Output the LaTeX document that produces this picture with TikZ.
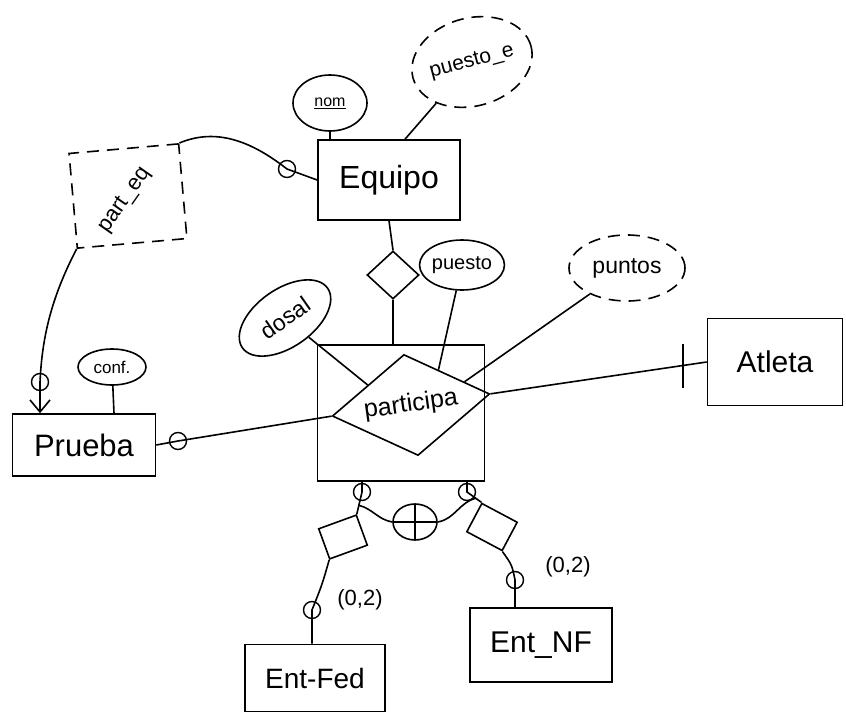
\documentclass[tikz,border=0pt]{standalone}
\usepackage{fontspec}
\setmainfont{Liberation Sans}
\usetikzlibrary{shapes.geometric,arrows.meta,calc}
\newcommand{\tam}[1]{\fontsize{#1}{#1}\selectfont}
\begin{document}
\begin{tikzpicture}[x=1pt,y=-1pt,line width=1.6pt,
	entidad/.style={draw,rectangle,inner sep=0pt},
	atrib/.style={draw,ellipse,inner sep=0pt},
	rel/.style={draw,diamond,inner sep=0pt,aspect=1.5},
	discont/.style={dash pattern=on 12pt off 8pt},
	card/.style={draw,circle,minimum size=17,inner sep=0pt,line width=1.4pt}]
		\useasboundingbox (0,0) rectangle (846,720);
		\node [entidad,minimum width=142,minimum height=80,font=\tam{32}] (equipo) at (389,180) {Equipo};
		\node [entidad,minimum width=143,minimum height=62,font=\tam{31}] (prueba) at (84,445) {Prueba};
		\node [entidad,minimum width=135,minimum height=87,font=\tam{30}] (atleta) at (775,362) {Atleta};
		\node [entidad,minimum width=140,minimum height=67,font=\tam{28}] (entfed) at (315,678) {Ent-Fed};
		\node [entidad,minimum width=142,minimum height=74,font=\tam{30}] (entnf) at (541,645) {Ent\_NF};
		\node [entidad,discont,minimum width=110,minimum height=95,rotate=5] (parteq) at (128,196) {};
		\node [font=\tam{22},rotate=55] (parteqtxt) at (125,200) {part\_eq};
%		agregacion
		\node [entidad,minimum width=167,minimum height=136] (agreg) at (401,413) {};
		\node [rel,minimum width=159,minimum height=102,rotate=8,font=\tam{25}] (participa) at (411,405) {participa};
		\node [rel,minimum width=52,minimum height=48] (releq) at (393,275) {};
		\node [entidad,minimum width=40,minimum height=32,rotate=20] (relfed) at (343,537) {};
		\node [entidad,minimum width=40,minimum height=32,rotate=-28] (relnf) at (492,527) {};
		\node [draw,ellipse,minimum width=44,minimum height=36,inner sep=0pt,
			path picture={\draw (path picture bounding box.north)--(path picture bounding box.south);
				\draw (path picture bounding box.west)--(path picture bounding box.east);}] (xor) at (415,522) {};
		\node [atrib,minimum width=74,minimum height=56,font=\tam{16}] (nom) at (330,103) {\underline{nom}};
		\node [atrib,discont,minimum width=118,minimum height=88,rotate=15,font=\tam{21}] (puestoe) at (472,62) {puesto\_e};
		\node [atrib,minimum width=68,minimum height=36,font=\tam{17}] (conf) at (112,367) {conf.};
		\node [atrib,minimum width=104,minimum height=58,rotate=35,font=\tam{23}] (dosal) at (285,318) {dosal};
		\node [atrib,minimum width=76,minimum height=50,font=\tam{20}] (puesto) at (462,265) {puesto};
		\node [atrib,discont,minimum width=116,minimum height=66,font=\tam{23}] (puntos) at (627,268) {puntos};
		\node [card] (c1) at (287,169) {};
		\node [card] (c2) at (40,382) {};
		\node [card] (c3) at (178,441) {};
		\node [card] (c4) at (362,492) {};
		\node [card] (c5) at (467,492) {};
		\node [card] (c6) at (312,610) {};
		\node [card] (c7) at (515,580) {};
		\node [font=\tam{22}] (card1) at (360,600) {(0,2)};
		\node [font=\tam{22}] (card2) at (568,567) {(0,2)};
%		atributos
		\draw (nom) -- (nom.south |- equipo.north);
		\draw (puestoe) -- ($(equipo.north)+(16,0)$);
		\draw (conf) -- ($(prueba.north)+(30,0)$);
		\draw (dosal) -- (participa.north west);
		\draw (puesto) -- ($(participa.north)!0.4!(participa.east)$);
		\draw (puntos) -- ($(participa.north)!0.7!(participa.east)$);
%		relaciones
		\draw (prueba.east) -- (c3.center) -- (participa.west);
		\draw (participa.east) -- (atleta.west);
		\coordinate (tk) at ($(participa.east)!0.89!(atleta.west)$);
		\draw ($(tk)+(0,-22)$) -- ($(tk)+(0,22)$);
		\draw (equipo.south) -- (releq.north);
		\draw (releq.south) -- (releq.south |- agreg.north);
		\draw (equipo.west) -- (c1.center) .. controls (250,140) and (215,128) .. (parteq.north east);
		\draw [-{Straight Barb[length=12pt,width=20pt]}] (parteq.south west) .. controls (50,300) and (42,340) .. (c2.center) -- (c2.center |- prueba.north);
		\draw (c4.center |- agreg.south) -- (c4.center) -- (relfed.north east);
		\draw (c5.center |- agreg.south) -- (c5.center) -- (relnf.north west);
		\coordinate (xa) at ($(c4.center)!0.6!(relfed.north east)$);
		\coordinate (xb) at ($(c5.center)!0.6!(relnf.north west)$);
		\draw (xa) to[out=-15,in=170] (xor.west);
		\draw (xor.east) to[out=10,in=-165] (xb);
		\draw (relfed.south west) .. controls (322,585) .. (c6.center) -- (entfed.north -| c6.center);
		\draw (relnf.south east) .. controls (512,565) .. (c7.center) -- (entnf.north -| c7.center);
	\end{tikzpicture}
\end{document}
